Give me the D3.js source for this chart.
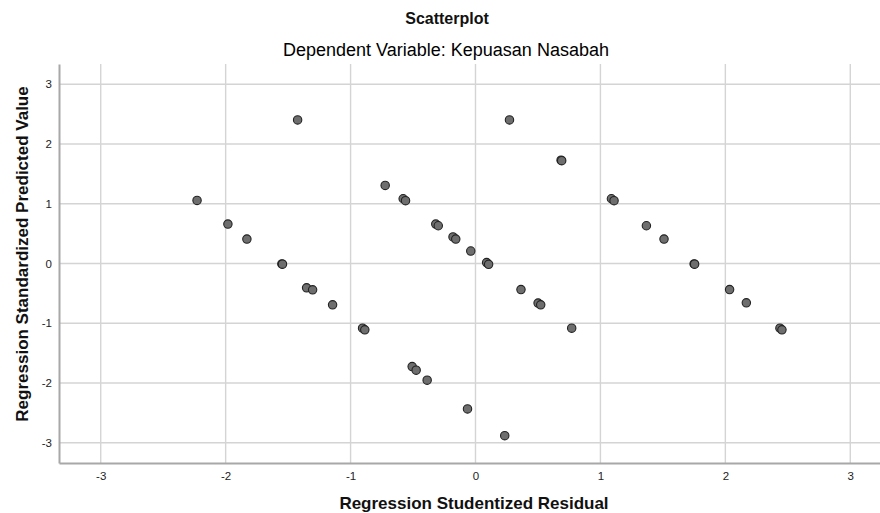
<!DOCTYPE html>
<html>
<head>
<meta charset="utf-8">
<script src="https://cdn.jsdelivr.net/npm/d3@7"></script>
<style>
    body { margin: 0; background: #fff; }
    svg { display: block; font-family: "Liberation Sans", Arial, sans-serif; }
</style>
</head>
<body>
<div id="chart"></div>
<script>
// chart texts
const title = "Scatterplot";
const subtitle = "Dependent Variable: Kepuasan Nasabah";
const xLabel = "Regression Studentized Residual";
const yLabel = "Regression Standardized Predicted Value";

// tick values on both axes
const xTicks = [-3, -2, -1, 0, 1, 2, 3];
const yTicks = [-3, -2, -1, 0, 1, 2, 3];

// studentized residuals (x)
const residual = [
    -2.229, -1.982, -1.830, -1.550, -1.545, -1.352, -1.304, -1.144, -0.904, -0.886,
    -0.507, -0.475, -0.387, -0.064, 0.234,
    -1.424, -0.723, -0.579, -0.560, -0.318, -0.298, -0.180, -0.158, -0.038, 0.089,
    0.105, 0.364, 0.501, 0.522, 0.770,
    0.272, 0.685, 0.690, 1.088, 1.109, 1.368, 1.509, 1.750, 1.754, 2.034,
    2.168, 2.437, 2.453
];

// standardized predicted values (y), same order
const predicted = [
    1.056, 0.660, 0.409, -0.008, -0.012, -0.407, -0.441, -0.692, -1.083, -1.111,
    -1.726, -1.786, -1.954, -2.435, -2.883,
    2.403, 1.307, 1.084, 1.051, 0.660, 0.632, 0.444, 0.409, 0.209, 0.015,
    -0.013, -0.436, -0.662, -0.692, -1.083,
    2.403, 1.730, 1.722, 1.084, 1.051, 0.632, 0.409, -0.008, -0.012, -0.436,
    -0.659, -1.083, -1.111
];

const points = residual.map((r, i) => ({x: r, y: predicted[i]}));

const width = 880;
const height = 513;
// plot box, the right side runs past the window like in the original
const plot = {left: 59, top: 64, right: 892, bottom: 463};

const svg = d3.select("#chart")
    .append("svg")
        .attr("width", width)
        .attr("height", height);

const x = d3.scaleLinear()
    .domain([-3.334, 3.334])
    .range([plot.left, plot.right]);

const y = d3.scaleLinear()
    .domain([-3.34, 3.34])
    .range([plot.bottom, plot.top]);

// grid lines
const grid = svg.append("g");
grid.selectAll(".vgrid")
    .data(xTicks)
    .enter()
    .append("line")
        .attr("x1", d => x(d)).attr("x2", d => x(d))
        .attr("y1", plot.top).attr("y2", plot.bottom)
        .style("stroke", "#d4d4d4")
        .style("stroke-width", 1.4);
grid.selectAll(".hgrid")
    .data(yTicks)
    .enter()
    .append("line")
        .attr("x1", plot.left).attr("x2", plot.right)
        .attr("y1", d => y(d)).attr("y2", d => y(d))
        .style("stroke", "#d4d4d4")
        .style("stroke-width", 1.4);

// axes, no tick marks, only labels
const xAxis = svg.append("g")
    .attr("transform", "translate(0," + plot.bottom + ")")
    .call(d3.axisBottom(x).tickValues(xTicks).tickSize(0).tickPadding(9).tickFormat(d3.format("d")));
const yAxis = svg.append("g")
    .attr("transform", "translate(" + plot.left + ",0)")
    .call(d3.axisLeft(y).tickValues(yTicks).tickSize(0).tickPadding(7).tickFormat(d3.format("d")));

[xAxis, yAxis].forEach(a => {
    a.select(".domain").style("stroke", "#a8a8a8").style("stroke-width", 2);
    a.selectAll("text")
        .style("font-family", "'Liberation Sans', Arial, sans-serif")
        .style("font-size", "11.5px")
        .style("fill", "#222");
});
// replace the default minus sign with a plain hyphen
xAxis.selectAll("text").text(d => String(d));
yAxis.selectAll("text").text(d => String(d));

// points
svg.append("g")
    .selectAll("circle")
    .data(points)
    .enter()
    .append("circle")
        .attr("cx", d => x(d.x))
        .attr("cy", d => y(d.y))
        .attr("r", 4.2)
        .style("fill", "#6e6e6e")
        .style("stroke", "#222")
        .style("stroke-width", 1.1);

// titles
svg.append("text")
    .attr("x", 447).attr("y", 24)
    .attr("text-anchor", "middle")
    .style("font-size", "16px")
    .style("font-weight", "bold")
    .style("fill", "#111")
    .text(title);

svg.append("text")
    .attr("x", 446).attr("y", 56)
    .attr("text-anchor", "middle")
    .style("font-size", "18px")
    .style("fill", "#000")
    .text(subtitle);

svg.append("text")
    .attr("x", 474).attr("y", 509)
    .attr("text-anchor", "middle")
    .style("font-size", "17px")
    .style("font-weight", "bold")
    .style("fill", "#111")
    .text(xLabel);

svg.append("text")
    .attr("transform", "translate(28," + 254 + ") rotate(-90)")
    .attr("text-anchor", "middle")
    .style("font-size", "17px")
    .style("font-weight", "bold")
    .style("fill", "#111")
    .text(yLabel);
</script>
</body>
</html>
